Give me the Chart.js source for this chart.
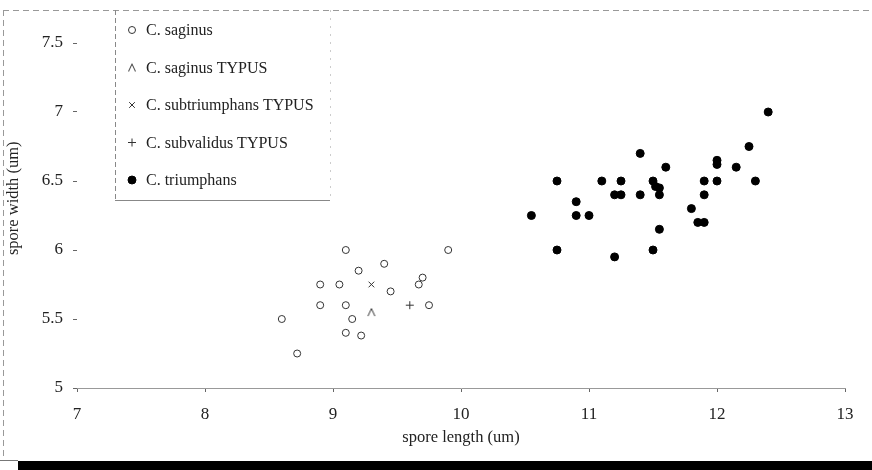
<!DOCTYPE html>
<html>
<head>
<meta charset="utf-8">
<script src="https://cdn.jsdelivr.net/npm/chart.js@4/dist/chart.umd.min.js"></script>
<style>
  html, body { margin:0; padding:0; background:#fff; }
  #wrap { width:872px; height:470px; position:relative; }
</style>
</head>
<body>
<div id="wrap"><canvas id="c"></canvas></div>
<script>
/* ── data ─────────────────────────────────────────────────── */
const SERIES_NAMES = ["C. saginus", "C. saginus TYPUS", "C. subtriumphans TYPUS", "C. subvalidus TYPUS", "C. triumphans"];

const saginusX = [9.1, 9.9, 9.4, 9.2, 8.9, 9.05, 9.45, 9.7, 9.67, 8.9, 9.1, 9.75, 8.6, 9.15, 9.1, 9.22, 8.72];
const saginusY = [6.0, 6.0, 5.9, 5.85, 5.75, 5.75, 5.7, 5.8, 5.75, 5.6, 5.6, 5.6, 5.5, 5.5, 5.4, 5.38, 5.25];

const saginusTypusX = [9.3];
const saginusTypusY = [5.55];

const subtriumphansTypusX = [9.3];
const subtriumphansTypusY = [5.75];

const subvalidusTypusX = [9.6];
const subvalidusTypusY = [5.6];

const triumphansX = [12.4, 12.25, 11.4, 12.0, 12.0, 11.6, 12.15, 10.75, 11.1, 11.25, 11.5, 11.52, 11.55, 11.9, 12.0, 12.3,
                     11.2, 11.25, 11.4, 11.55, 11.9, 10.9, 10.55, 10.9, 11.0, 11.8, 11.85, 11.9, 11.55, 10.75, 11.5, 11.2];
const triumphansY = [7.0, 6.75, 6.7, 6.65, 6.62, 6.6, 6.6, 6.5, 6.5, 6.5, 6.5, 6.46, 6.45, 6.5, 6.5, 6.5,
                     6.4, 6.4, 6.4, 6.4, 6.4, 6.35, 6.25, 6.25, 6.25, 6.3, 6.2, 6.2, 6.15, 6.0, 6.0, 5.95];

const xTicks = [7, 8, 9, 10, 11, 12, 13];
const yTicks = [5, 5.5, 6, 6.5, 7, 7.5];

const pts = (xs, ys) => xs.map((x, i) => ({ x, y: ys[i] }));

/* ── caret marker (open "^") ── */
const caret = document.createElement("canvas");
caret.width = 10; caret.height = 10;
(function () {
  const g = caret.getContext("2d");
  g.strokeStyle = "#333"; g.lineWidth = 1;
  g.beginPath(); g.moveTo(1.5, 9); g.lineTo(5, 1.5); g.lineTo(8.5, 9); g.stroke();
})();

const SERIF = "'Liberation Serif', 'DejaVu Serif', serif";
const INK = "#222";

/* ── legend box drawn inside the plot ── */
const legendBox = {
  id: "legendBox",
  afterDatasetsDraw(chart) {
    const ctx = chart.ctx;
    ctx.save();
    ctx.strokeStyle = "#888"; ctx.lineWidth = 1;
    ctx.setLineDash([5, 3]);
    ctx.beginPath(); ctx.moveTo(115.5, 10); ctx.lineTo(115.5, 200); ctx.stroke();
    ctx.setLineDash([]);
    ctx.beginPath(); ctx.moveTo(115, 200.5); ctx.lineTo(330, 200.5); ctx.stroke();
    ctx.strokeStyle = "#ccc"; ctx.setLineDash([2, 6]);
    ctx.beginPath(); ctx.moveTo(330.5, 10); ctx.lineTo(330.5, 200); ctx.stroke();
    ctx.setLineDash([]);
    ctx.font = "16px " + SERIF;
    ctx.textBaseline = "middle"; ctx.textAlign = "left";
    chart.data.datasets.forEach((ds, i) => {
      const y = 30 + i * 37.5;
      ctx.strokeStyle = ds.borderColor;
      ctx.fillStyle = ds.backgroundColor;
      ctx.lineWidth = 1;
      Chart.helpers.drawPoint(ctx, {
        pointStyle: ds.pointStyle, radius: ds.pointRadius, borderWidth: 1, rotation: 0
      }, 132, y);
      ctx.fillStyle = INK;
      ctx.fillText(ds.label, 146, y + 1);
    });
    ctx.restore();
  }
};

/* ── scan frame + dark strip along the bottom ── */
const frame = {
  id: "frame",
  beforeDraw(chart) {
    const ctx = chart.ctx;
    ctx.save();
    ctx.strokeStyle = "#999"; ctx.lineWidth = 1; ctx.setLineDash([6, 4]);
    ctx.beginPath(); ctx.moveTo(3, 10.5); ctx.lineTo(872, 10.5); ctx.stroke();
    ctx.beginPath(); ctx.moveTo(3.5, 10); ctx.lineTo(3.5, 458); ctx.stroke();
    ctx.setLineDash([]);
    ctx.fillStyle = "#000";
    ctx.fillRect(18, 461, 854, 9);
    ctx.strokeStyle = "#777";
    ctx.beginPath(); ctx.moveTo(0, 460.5); ctx.lineTo(18, 460.5); ctx.stroke();
    ctx.restore();
  }
};

const base = { showLine: false, borderWidth: 1, pointHoverRadius: 4 };

new Chart(document.getElementById("c"), {
  type: "scatter",
  data: {
    datasets: [
      { ...base, label: SERIES_NAMES[0], data: pts(saginusX, saginusY),
        pointStyle: "circle", pointRadius: 3.5, borderColor: "#333", backgroundColor: "rgba(255,255,255,0)" },
      { ...base, label: SERIES_NAMES[1], data: pts(saginusTypusX, saginusTypusY),
        pointStyle: caret, pointRadius: 5, borderColor: "#333", backgroundColor: "#333" },
      { ...base, label: SERIES_NAMES[2], data: pts(subtriumphansTypusX, subtriumphansTypusY),
        pointStyle: "crossRot", pointRadius: 4, borderColor: "#333", backgroundColor: "#333" },
      { ...base, label: SERIES_NAMES[3], data: pts(subvalidusTypusX, subvalidusTypusY),
        pointStyle: "cross", pointRadius: 4, borderColor: "#333", backgroundColor: "#333" },
      { ...base, label: SERIES_NAMES[4], data: pts(triumphansX, triumphansY),
        pointStyle: "circle", pointRadius: 4, borderColor: "#000", backgroundColor: "#000" },
    ],
  },
  options: {
    responsive: true,
    maintainAspectRatio: false,
    animation: false,
    layout: { padding: { left: 0, right: 27, top: 8.5, bottom: 18 } },
    plugins: { legend: { display: false }, tooltip: { enabled: false } },
    scales: {
      x: {
        type: "linear", min: 7, max: 13,
        afterBuildTicks: s => { s.ticks = xTicks.map(v => ({ value: v })); },
        afterFit: s => { s.height = 64; s.paddingLeft = 0; s.paddingRight = 0; },
        grid: { drawOnChartArea: false, drawTicks: true, tickLength: 4, color: "#666" },
        border: { display: true, color: "#999", width: 1 },
        ticks: { font: { family: SERIF, size: 17 }, color: INK, padding: 12, callback: v => String(v) },
        title: { display: true, text: "spore length (um)", font: { family: SERIF, size: 16.5 }, color: INK,
                 padding: { top: 4, bottom: 4 } },
      },
      y: {
        type: "linear", min: 5, max: 7.75,
        afterBuildTicks: s => { s.ticks = yTicks.map(v => ({ value: v })); },
        afterFit: s => { s.width = 77; s.paddingTop = 0; s.paddingBottom = 0; },
        grid: { drawOnChartArea: false, drawTicks: true, tickLength: 4, color: "#666" },
        border: { display: false },
        ticks: { font: { family: SERIF, size: 17 }, color: INK, padding: 10, callback: v => String(v) },
        title: { display: true, text: "spore width (um)", font: { family: SERIF, size: 16.5 }, color: INK,
                 padding: { top: 4, bottom: 4 } },
      },
    },
  },
  plugins: [frame, legendBox],
});
</script>
</body>
</html>
